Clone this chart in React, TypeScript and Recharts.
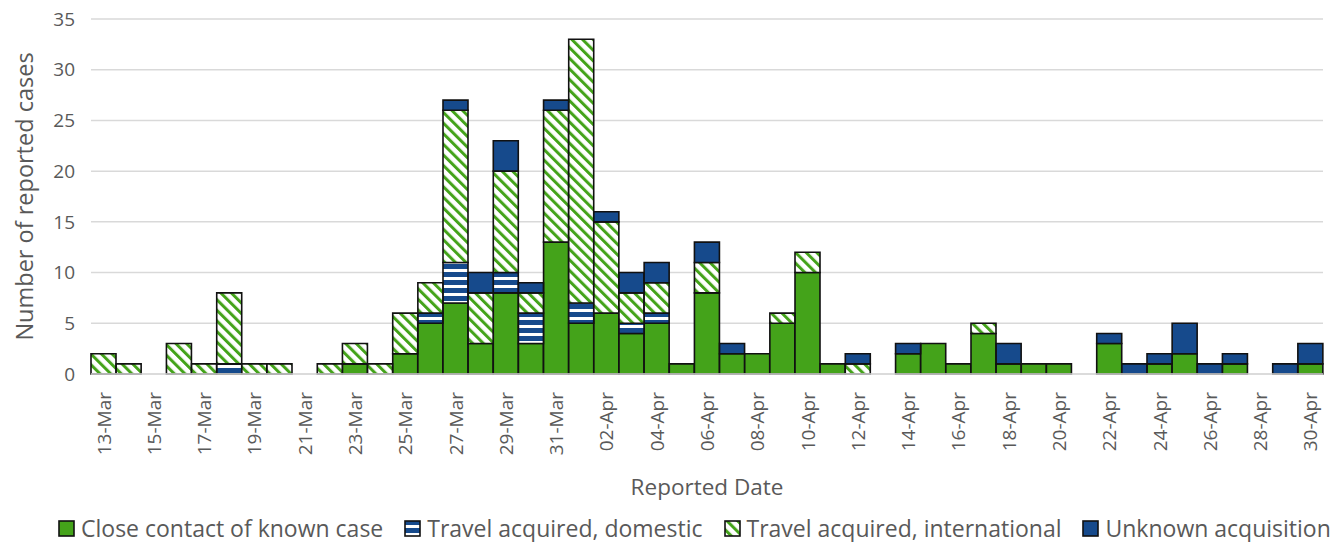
import React from "react";
import { BarChart, Bar, XAxis, YAxis, CartesianGrid } from "recharts";

const dates = [
  "13-Mar", "14-Mar", "15-Mar", "16-Mar", "17-Mar", "18-Mar", "19-Mar", "20-Mar", "21-Mar", "22-Mar",
  "23-Mar", "24-Mar", "25-Mar", "26-Mar", "27-Mar", "28-Mar", "29-Mar", "30-Mar", "31-Mar",
  "01-Apr", "02-Apr", "03-Apr", "04-Apr", "05-Apr", "06-Apr", "07-Apr", "08-Apr", "09-Apr", "10-Apr",
  "11-Apr", "12-Apr", "13-Apr", "14-Apr", "15-Apr", "16-Apr", "17-Apr", "18-Apr", "19-Apr", "20-Apr",
  "21-Apr", "22-Apr", "23-Apr", "24-Apr", "25-Apr", "26-Apr", "27-Apr", "28-Apr", "29-Apr", "30-Apr",
];

const closeContact = [
  0, 0, 0, 0, 0, 0, 0, 0, 0, 0,
  1, 0, 2, 5, 7, 3, 8, 3, 13,
  5, 6, 4, 5, 1, 8, 2, 2, 5, 10,
  1, 0, 0, 2, 3, 1, 4, 1, 1, 1,
  0, 3, 0, 1, 2, 0, 1, 0, 0, 1,
];

const travelDomestic = [
  0, 0, 0, 0, 0, 1, 0, 0, 0, 0,
  0, 0, 0, 1, 4, 0, 2, 3, 0,
  2, 0, 1, 1, 0, 0, 0, 0, 0, 0,
  0, 0, 0, 0, 0, 0, 0, 0, 0, 0,
  0, 0, 0, 0, 0, 0, 0, 0, 0, 0,
];

const travelInternational = [
  2, 1, 0, 3, 1, 7, 1, 1, 0, 1,
  2, 1, 4, 3, 15, 5, 10, 2, 13,
  26, 9, 3, 3, 0, 3, 0, 0, 1, 2,
  0, 1, 0, 0, 0, 0, 1, 0, 0, 0,
  0, 0, 0, 0, 0, 0, 0, 0, 0, 0,
];

const unknownAcquisition = [
  0, 0, 0, 0, 0, 0, 0, 0, 0, 0,
  0, 0, 0, 0, 1, 2, 3, 1, 1,
  0, 1, 2, 2, 0, 2, 1, 0, 0, 0,
  0, 1, 0, 1, 0, 0, 0, 2, 0, 0,
  0, 1, 1, 1, 3, 1, 1, 0, 1, 2,
];

const yTicks = [0, 5, 10, 15, 20, 25, 30, 35];

const GREEN = "#44A31A";
const BLUE = "#164A8C";
const TEXT = "#595959";
const FONT = "'Open Sans', sans-serif";

const data = dates.map((date, i) => ({
  date,
  close: closeContact[i],
  domestic: travelDomestic[i],
  international: travelInternational[i],
  unknown: unknownAcquisition[i],
}));

const legendItems = [
  { name: "Close contact of known case", fill: GREEN },
  { name: "Travel acquired, domestic", fill: "url(#domPatternLg)" },
  { name: "Travel acquired, international", fill: "url(#intlPatternLg)" },
  { name: "Unknown acquisition", fill: BLUE },
];

const Patterns = ({ suffix }: { suffix: string }) => (
  <defs>
    <pattern id={`intlPattern${suffix}`} patternUnits="userSpaceOnUse" width="7.5" height="7.5" patternTransform="rotate(-45)">
      <rect width="7.5" height="7.5" fill="#fff" />
      <rect x="0" width="3" height="7.5" fill={GREEN} />
    </pattern>
    <pattern id={`domPattern${suffix}`} patternUnits="userSpaceOnUse" width="8" height="8">
      <rect width="8" height="8" fill="#fff" />
      <rect width="8" height="5" fill={BLUE} />
    </pattern>
  </defs>
);

const XTick = (props: any) => {
  const { x, y, payload } = props;
  const ty = y + 10;
  return (
    <text
      x={x}
      y={ty}
      transform={`rotate(-90, ${x}, ${ty})`}
      textAnchor="end"
      dominantBaseline="central"
      fill={TEXT}
      fontSize={19}
      fontFamily={FONT}
    >
      {payload.value}
    </text>
  );
};

export default function App() {
  const barProps = {
    stackId: "a",
    stroke: "#111",
    strokeWidth: 1.6,
    isAnimationActive: false,
  };

  return (
    <div style={{ position: "absolute", left: 0, top: 0, width: 1343, height: 542, background: "#fff" }}>
      <BarChart
        width={1343}
        height={542}
        data={data}
        margin={{ top: 19, right: 20, bottom: 42, left: 0 }}
        barCategoryGap={0}
      >
        <Patterns suffix="" />
        <CartesianGrid vertical={false} stroke="#d9d9d9" strokeWidth={1.5} />
        <XAxis
          dataKey="date"
          interval={1}
          height={126}
          tickLine={false}
          axisLine={{ stroke: "#d9d9d9", strokeWidth: 1.5 }}
          tick={<XTick />}
          label={{
            value: "Reported Date",
            position: "insideBottom",
            offset: 5,
            style: { fill: TEXT, fontSize: 22.5, fontFamily: FONT },
          }}
        />
        <YAxis
          width={91}
          domain={[0, 35]}
          ticks={yTicks}
          axisLine={false}
          tickLine={false}
          tickSize={0}
          tickMargin={16}
          tick={{ fill: TEXT, fontSize: 19, fontFamily: FONT }}
          label={{
            value: "Number of reported cases",
            angle: -90,
            position: "insideLeft",
            offset: 25,
            style: { textAnchor: "middle", fill: TEXT, fontSize: 23.5, fontFamily: FONT },
          }}
        />
        <Bar dataKey="close" fill={GREEN} {...barProps} />
        <Bar dataKey="domestic" fill="url(#domPattern)" {...barProps} />
        <Bar dataKey="international" fill="url(#intlPattern)" {...barProps} />
        <Bar dataKey="unknown" fill={BLUE} {...barProps} />
      </BarChart>
      <div
        style={{
          position: "absolute",
          left: 58,
          top: 515,
          height: 26,
          display: "flex",
          alignItems: "center",
          gap: 21,
          fontFamily: FONT,
          fontSize: 23,
          color: TEXT,
          whiteSpace: "nowrap",
        }}
      >
        {legendItems.map((item, i) => (
          <div key={item.name} style={{ display: "flex", alignItems: "center", gap: 6 }}>
            <svg width={17} height={17}>
              {i === 0 && <Patterns suffix="Lg" />}
              <rect x={1} y={1} width={15} height={15} fill={item.fill} stroke="#111" strokeWidth={1.6} />
            </svg>
            <span>{item.name}</span>
          </div>
        ))}
      </div>
    </div>
  );
}
